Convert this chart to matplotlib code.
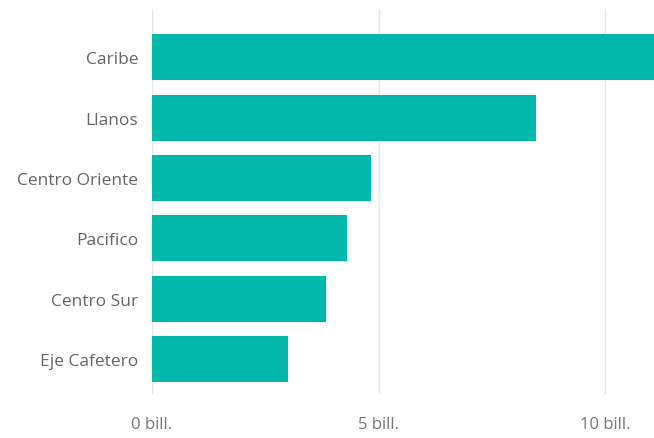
import matplotlib
matplotlib.use("Agg")
import matplotlib.pyplot as plt

# data (values in billions)
regions = ["Caribe", "Llanos", "Centro Oriente", "Pacifico", "Centro Sur", "Eje Cafetero"]
values = [11.6, 8.48, 4.83, 4.31, 3.83, 3.0]
tick_vals = [0, 5, 10]
tick_labels = ["0 bill.", "5 bill.", "10 bill."]

plt.rcParams['font.family'] = ['Open Sans', 'DejaVu Sans']

fig = plt.figure(figsize=(6.54, 4.39), dpi=100)
ax = fig.add_axes([152/654, 44/439, 502/654, 385/439])

y = list(range(len(regions)))
ax.barh(y, values, height=0.76, color="#01B8AA", zorder=3)

ax.set_xlim(0, 11.08)
ax.set_ylim(5.58, -0.8)
ax.set_yticks(y)
ax.set_yticklabels(regions, color="#666666", fontsize=12.5)
ax.set_xticks(tick_vals)
ax.set_xticklabels(tick_labels, color="#777777", fontsize=12)
ax.tick_params(axis="y", length=0, pad=10)
ax.tick_params(axis="x", length=0, pad=16)

ax.grid(axis="x", color="#e6e6e6", linewidth=1, zorder=0)
for s in ax.spines.values():
    s.set_visible(False)

fig.savefig("out.png", dpi=100)
